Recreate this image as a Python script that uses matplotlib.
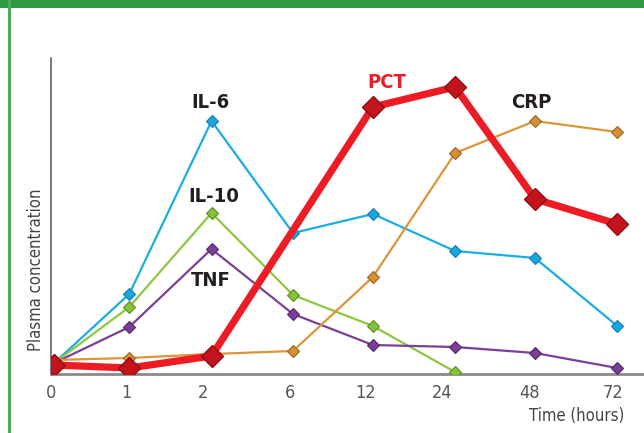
import matplotlib
matplotlib.use("Agg")
import matplotlib.pyplot as plt
from matplotlib.patches import Rectangle

# ---- data ----
time_labels = ["0", "1", "2", "6", "12", "24", "48", "72"]
# horizontal positions (in category-step units) of tick labels and of the plotted points
tick_pos = [0.0, 0.94, 1.9, 2.99, 3.94, 4.9, 5.99, 7.03]
point_pos = [0.04, 0.98, 2.01, 3.03, 4.03, 5.06, 6.06, 7.09]

# plasma concentration (arbitrary units)
il6 = [11, 80, 253, 141, 160, 123, 116, 48]
il10 = [11, 67, 161, 79, 48, 2]
tnf = [11, 47, 125, 60, 29, 27, 21, 6]
crp = [14, 16, 20, 23, 97, 221, 253, 242]
pct_idx = [0, 1, 2, 4, 5, 6, 7]          # PCT has no point at 6 h
pct = [9, 6, 18, 267, 287, 175, 150]

series_labels = ["IL-6", "IL-10", "TNF", "PCT", "CRP"]

plt.rcParams['font.family'] = ['DejaVu Sans']
plt.rcParams['font.stretch'] = 'condensed'

fig = plt.figure(figsize=(6.44, 4.33), dpi=100)
W, H = 644, 433
ax = fig.add_axes([51 / W, (H - 374) / H, (W - 51) / W, (374 - 58) / H])

def pts(idx):
    return [point_pos[i] for i in idx]

thin = dict(lw=1.6, marker='D', ms=6.5, mew=0.8, zorder=3)
ax.plot(pts(range(len(il6))), il6, color='#1aade4', mfc='#1aa6dc', mec='#0f7fae', **thin)
ax.plot(pts(range(len(il10))), il10, color='#8dc63f', mfc='#86c23a', mec='#5d8f22', **thin)
ax.plot(pts(range(len(tnf))), tnf, color='#7b3f98', mfc='#7a3e96', mec='#512568', **thin)
ax.plot(pts(range(len(crp))), crp, color='#dc9439', mfc='#d78f34', mec='#9c6520', **thin)
ax.plot(pts(pct_idx), pct, color='#ed1c24', lw=5.2, marker='D', ms=11.5,
        mfc='#c3131c', mec='#8e0d13', mew=1.0, zorder=5, solid_joinstyle='miter')

txt = dict(ha='center', va='center', fontsize=14.5, fontweight='bold', color='#231f20')
ax.text(2.0, 374 - 103, series_labels[0], **txt)
ax.text(2.04, 374 - 197, series_labels[1], **txt)
ax.text(2.0, 374 - 281, series_labels[2], **txt)
ax.text(4.2, 374 - 82, series_labels[3], **{**txt, 'color': '#e8202a'})
ax.text(6.01, 374 - 102, series_labels[4], **txt)

ax.set_xlim((51 - 50) / 80, (644 - 50) / 80)
ax.set_ylim(0, 316)
ax.set_xticks(tick_pos)
ax.set_xticklabels(time_labels)
ax.set_yticks([])
ax.tick_params(axis='x', length=0, pad=7, labelsize=13, labelcolor='#555555')

for s in ['top', 'right']:
    ax.spines[s].set_visible(False)
ax.spines['left'].set_color('#555555')
ax.spines['left'].set_linewidth(1.1)
ax.spines['bottom'].set_color('#8a8a8a')
ax.spines['bottom'].set_linewidth(2.0)

fig.text(36 / W, 1 - 270 / H, "Plasma concentration", rotation=90, ha='center', va='center',
         fontsize=12, color='#444444')
fig.text(577 / W, 1 - 416 / H, "Time (hours)", ha='center', va='center',
         fontsize=12, color='#444444')

# green frame
green = '#2f9a41'
fig.add_artist(Rectangle((0, 1 - 8 / H), 1, 8 / H, transform=fig.transFigure,
                         color=green, lw=0, zorder=10))
fig.add_artist(Rectangle((8 / W, 0), 3 / W, 1, transform=fig.transFigure,
                         color='#4cab55', lw=0, zorder=10))

fig.savefig("out.png", dpi=100)
